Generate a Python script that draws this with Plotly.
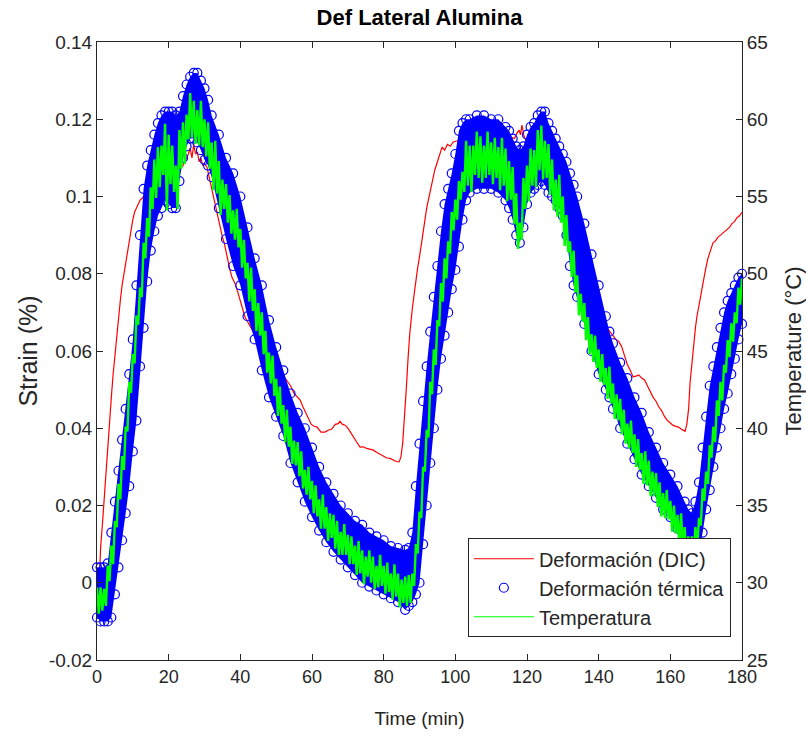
import plotly.graph_objects as go

# ---------------- data ----------------
# Deformación (DIC): time (min), strain (%)
red_t = [0, 0.5, 0.8, 1.0, 1.5, 2, 2.5, 3, 3.5, 4, 4.5, 5, 5.5, 6, 6.5, 7, 7.5, 8, 8.5, 9, 9.5, 10, 10.5, 11, 11.5, 12,
         13, 14, 16, 18, 20, 22, 24, 25, 25.5, 26, 26.5, 27, 27.5, 28, 28.5, 29, 29.5, 30, 30.7, 31.3, 32, 32.5, 33,
         33.5, 34.3, 35, 35.5, 36.2, 37.1, 37.7, 38.5, 39.2, 40, 40.6, 41.3, 43, 45, 47, 49, 51, 53, 54, 55, 56, 56.7,
         57.5, 58.3, 59, 59.8, 60.6, 61.4, 62.5, 63.6, 64.5, 65.5, 66.5, 67.3, 67.8, 68.5, 69.2, 69.8, 70.6, 71.5,
         72.4, 73.4, 74.3, 75.2, 76.1, 77, 78, 79, 80, 80.9, 81.8, 82.7, 83.5, 84.3, 84.8, 85.3, 85.8, 86.3, 86.8,
         87.3, 88, 88.7, 89.4, 90.1, 91, 92, 92.8, 93.5, 94.3, 95, 95.7, 96.3, 97, 97.8, 98.6, 99.4, 101, 103, 105,
         107, 109, 111, 113, 115, 116.5, 117.2, 117.8, 118.2, 118.6, 119.2, 120, 121, 123, 125, 127, 129, 131, 132.8,
         134, 136, 138, 140, 141.5, 142.4, 143.2, 144, 144.8, 145.6, 146.4, 147.2, 148, 148.8, 149.6, 150.4, 151.2,
         152, 152.8, 153.6, 154.4, 155.2, 156, 156.8, 157.6, 158.4, 159.2, 159.9, 160.7, 161.5, 162.3, 163, 163.5,
         164.1, 164.6, 165.1, 165.5, 166, 166.5, 167, 167.4, 168, 168.6, 169.1, 169.8, 170.5, 171.2, 171.9, 172.6,
         173.3, 174, 174.7, 175.4, 175.8, 176.5, 177.2, 177.9, 178.6, 179.3, 180]
red_s = [0.001, 0.002, 0.004, 0.009, 0.015, 0.022, 0.029, 0.036, 0.042, 0.048, 0.054, 0.059, 0.0645, 0.069, 0.073,
         0.077, 0.080, 0.083, 0.086, 0.089, 0.091, 0.094, 0.096, 0.097, 0.098, 0.099,
         0.100, 0.101, 0.103, 0.104, 0.105, 0.106, 0.108, 0.110, 0.111, 0.1125, 0.110, 0.1135, 0.111, 0.1115, 0.109,
         0.110, 0.108, 0.1085, 0.1076, 0.105, 0.102, 0.100, 0.0975,
         0.096, 0.092, 0.0895, 0.088, 0.0845, 0.081, 0.079, 0.0775, 0.0755, 0.073, 0.0705, 0.0688, 0.066, 0.063,
         0.060, 0.0575, 0.055, 0.0524, 0.051, 0.049, 0.048, 0.0473,
         0.0455, 0.044, 0.0425, 0.041, 0.0405, 0.0403, 0.039, 0.039, 0.0395, 0.0398, 0.041, 0.0412, 0.0418, 0.041,
         0.0408, 0.0403, 0.0392, 0.038,
         0.0365, 0.0351, 0.0352, 0.0348, 0.0345, 0.0344, 0.0338, 0.0333, 0.0328, 0.0323, 0.0322, 0.0318, 0.0314,
         0.0313, 0.0325, 0.036, 0.042, 0.050, 0.058,
         0.0647, 0.071, 0.0766, 0.081, 0.085, 0.091, 0.097, 0.1005, 0.1035, 0.107, 0.109, 0.111, 0.1128, 0.112,
         0.1135, 0.113, 0.1141, 0.1145, 0.115, 0.1148,
         0.1152, 0.1155, 0.115, 0.1158, 0.1155, 0.115, 0.1164, 0.1172, 0.116, 0.1185, 0.1155, 0.114, 0.1135, 0.112,
         0.109, 0.104, 0.098, 0.091, 0.0843,
         0.080, 0.076, 0.0725, 0.069, 0.067, 0.066, 0.0649, 0.064, 0.063, 0.0625, 0.0612, 0.059, 0.0565, 0.055,
         0.0533, 0.0535, 0.0538,
         0.053, 0.0525, 0.051, 0.0495, 0.048, 0.047, 0.0455, 0.0445, 0.043, 0.042, 0.0414, 0.0408, 0.0405, 0.0403,
         0.0398, 0.0396,
         0.0392, 0.041, 0.045, 0.0517, 0.057, 0.062, 0.066, 0.0688, 0.072, 0.075, 0.0776, 0.081, 0.084, 0.086,
         0.088, 0.0885,
         0.0895, 0.090, 0.0905, 0.091, 0.0913, 0.092, 0.093, 0.0935, 0.0945, 0.095, 0.0959]

# Deformación térmica: upper and lower edge of the dense band of circles
blue_t = [0, 1, 2, 3, 4, 5, 6, 7, 8, 9, 10, 11, 12, 13, 14, 15, 16, 17, 18, 19, 20, 21, 22, 23, 24, 25, 26, 27, 28,
          29, 30, 31, 32, 34, 36, 38, 40, 42, 44, 46, 48, 50, 52, 54, 56, 58, 60, 62, 64, 66, 68, 70, 72, 74, 76,
          78, 80, 82, 84, 86, 87, 88, 89, 90, 91, 92, 93, 94, 95, 96, 97, 98, 99, 100, 101, 102, 103, 104, 106, 108,
          110, 112, 114, 115, 116, 117, 118, 119, 120, 121, 122, 123, 124, 125, 126, 127, 128, 129, 130, 131, 132,
          133, 134, 136, 138, 140, 142, 143, 144, 146, 148, 150, 152, 154, 156, 158, 160, 162, 164, 165, 166, 167,
          168, 169, 170, 171, 172, 173, 174, 175, 176, 177, 178, 179, 180]
blue_top = [0.004, 0.004, 0.004, 0.005, 0.013, 0.021, 0.029, 0.037, 0.045, 0.054, 0.063, 0.077, 0.090, 0.102, 0.108,
            0.112, 0.116, 0.119, 0.121, 0.122, 0.122, 0.122, 0.121, 0.122, 0.126, 0.129, 0.131, 0.132, 0.132,
            0.130, 0.128, 0.125, 0.121, 0.116, 0.110, 0.106, 0.100, 0.092, 0.084, 0.077, 0.068, 0.061, 0.055, 0.049,
            0.044, 0.040, 0.035, 0.030, 0.026, 0.023, 0.020, 0.018, 0.016, 0.015, 0.013,
            0.012, 0.011, 0.0095, 0.009, 0.0085, 0.009, 0.013, 0.025, 0.036, 0.047, 0.056, 0.065, 0.074, 0.082,
            0.091, 0.098, 0.102, 0.106, 0.111, 0.117, 0.119, 0.120, 0.120, 0.121, 0.121,
            0.120, 0.120, 0.118, 0.117, 0.115, 0.113, 0.112, 0.113, 0.116, 0.118, 0.119, 0.121, 0.122, 0.122, 0.119,
            0.117, 0.115, 0.113, 0.111, 0.109, 0.106,
            0.103, 0.100, 0.093, 0.085, 0.077, 0.069, 0.065, 0.062, 0.057, 0.053, 0.048, 0.044, 0.039, 0.035, 0.031,
            0.028, 0.025, 0.021, 0.019, 0.018, 0.021,
            0.026, 0.035, 0.043, 0.051, 0.056, 0.061, 0.066, 0.070, 0.073, 0.075, 0.077, 0.079, 0.080]
blue_bot = [-0.009, -0.010, -0.010, -0.010, -0.009, -0.003, 0.004, 0.011, 0.018, 0.025, 0.034, 0.042, 0.056, 0.066,
            0.078, 0.086, 0.091, 0.095, 0.097, 0.099, 0.098, 0.097, 0.097, 0.104, 0.110, 0.113, 0.115, 0.115, 0.114,
            0.112, 0.1095, 0.108, 0.105, 0.097, 0.089, 0.082, 0.077, 0.069, 0.063, 0.055, 0.048, 0.043, 0.038, 0.031,
            0.026, 0.021, 0.017, 0.0135, 0.0105, 0.008, 0.006, 0.004, 0.002, 0.000, -0.001,
            -0.002, -0.003, -0.004, -0.005, -0.007, -0.006, -0.005, -0.003, 0.000, 0.010, 0.020, 0.031, 0.040, 0.050,
            0.058, 0.064, 0.070, 0.076, 0.081, 0.087, 0.094, 0.099, 0.101, 0.102, 0.102,
            0.102, 0.101, 0.099, 0.097, 0.094, 0.090, 0.088, 0.092, 0.098, 0.101, 0.102, 0.103, 0.104, 0.103, 0.101,
            0.100, 0.099, 0.097, 0.095, 0.090, 0.082,
            0.077, 0.074, 0.067, 0.060, 0.054, 0.050, 0.048, 0.045, 0.040, 0.036, 0.032, 0.028, 0.025, 0.022, 0.019,
            0.017, 0.014, 0.011, 0.009, 0.007, 0.006,
            0.008, 0.013, 0.019, 0.024, 0.030, 0.035, 0.040, 0.045, 0.049, 0.054, 0.058, 0.063, 0.067]

# Temperatura (°C): noisy trace, highs at whole minutes and lows at the half minutes
temp_high_t = list(range(0, 181))
temp_high = [29.7, 29.7, 29.6, 31.1, 32.4, 34.0, 36.4, 38.2, 40.1, 43.0,
             44.8, 47.3, 49.1, 52.0, 53.6, 55.6, 57.4, 58.2, 58.3, 59.7,
             59.0, 58.3, 57.0, 59.3, 59.8, 60.3, 61.7, 61.2, 60.6, 61.2,
             60.0, 59.8, 58.5, 58.6, 57.3, 56.1, 55.8, 55.1, 54.1, 54.2,
             52.9, 52.2, 50.7, 50.4, 49.0, 48.1, 47.5, 46.3, 44.9, 44.7,
             43.2, 42.7, 41.5, 41.2, 40.1, 39.2, 39.1, 38.5, 37.3, 37.5,
             36.6, 36.3, 35.4, 35.7, 34.9, 34.5, 34.4, 34.0, 33.3, 33.8,
             33.1, 33.0, 32.4, 32.7, 32.1, 31.7, 32.1, 31.7, 31.1, 31.8,
             31.1, 31.3, 30.6, 31.2, 30.6, 30.2, 30.4, 30.5, 30.6, 32.5,
             34.6, 37.5, 39.9, 43.0, 45.1, 47.0, 49.4, 51.0, 52.1, 54.0,
             54.8, 56.0, 56.6, 58.6, 58.3, 58.3, 59.2, 58.9, 58.3, 59.2,
             58.5, 58.8, 58.2, 58.8, 58.1, 57.3, 56.9, 55.2, 53.3, 56.2,
             57.0, 58.1, 58.0, 59.3, 59.6, 58.6, 58.4, 57.4, 56.1, 56.4,
             55.0, 53.8, 52.1, 51.5, 49.9, 48.7, 48.1, 47.2, 46.1, 46.0,
             45.1, 44.8, 43.9, 44.0, 42.9, 42.2, 41.9, 41.2, 40.3, 40.5,
             39.6, 39.3, 38.4, 38.5, 37.9, 37.2, 37.1, 36.5, 35.8, 36.0,
             35.3, 35.0, 34.4, 34.5, 33.6, 33.0, 33.0, 33.6, 34.2, 36.1,
             37.2, 38.9, 40.1, 41.8, 43.0, 44.1, 45.7, 46.8, 47.5, 49.1,
             49.7]
temp_low_t = [m + 0.5 for m in range(0, 180)]
temp_low = [28.0, 28.2, 28.5, 30.1, 31.2, 33.6, 35.4, 37.3, 39.8, 42.3,
            44.2, 46.7, 48.5, 51.0, 52.4, 54.2, 54.9, 55.6, 56.4, 54.1,
            55.8, 55.3, 54.2, 56.8, 57.1, 58.7, 58.8, 58.4, 58.3, 58.2,
            57.6, 56.8, 55.4, 55.2, 53.8, 54.2, 53.3, 52.6, 52.2, 51.7,
            50.4, 49.7, 48.2, 47.6, 46.3, 46.0, 44.8, 43.6, 42.9, 42.1,
            40.8, 40.3, 39.1, 38.8, 37.7, 37.6, 36.9, 36.1, 35.7, 35.4,
            34.5, 34.3, 33.5, 33.5, 32.7, 32.9, 32.2, 31.8, 31.8, 31.8,
            31.2, 31.2, 30.5, 30.6, 29.9, 30.4, 30.0, 29.6, 29.7, 29.8,
            29.3, 29.4, 28.9, 29.1, 28.4, 28.7, 28.5, 28.7, 29.8, 31.9,
            34.2, 37.2, 39.4, 42.2, 44.1, 46.6, 48.2, 49.7, 51.3, 52.8,
            53.5, 54.8, 55.3, 55.7, 55.3, 56.4, 56.2, 55.9, 56.2, 56.4,
            55.8, 56.2, 55.4, 55.7, 54.7, 54.8, 53.2, 51.6, 52.2, 54.2,
            54.7, 55.7, 55.6, 56.7, 56.1, 56.2, 55.1, 54.1, 53.7, 53.3,
            51.8, 51.4, 49.8, 48.8, 47.3, 46.9, 45.7, 44.8, 44.3, 43.9,
            43.0, 42.8, 41.9, 41.6, 40.6, 40.5, 39.6, 39.0, 38.7, 38.4,
            37.5, 37.3, 36.4, 36.3, 35.6, 35.6, 34.9, 34.3, 34.2, 34.1,
            33.3, 33.2, 32.4, 32.2, 31.3, 31.5, 31.6, 32.3, 33.7, 35.3,
            36.4, 38.1, 39.1, 40.8, 41.8, 43.6, 44.6, 45.6, 46.8, 48.0]

# axis ticks
x_ticks = [0, 20, 40, 60, 80, 100, 120, 140, 160, 180]
y_ticks = [-0.02, 0, 0.02, 0.04, 0.06, 0.08, 0.1, 0.12, 0.14]
y_ticktext = ["-0.02", "0", "0.02", "0.04", "0.06", "0.08", "0.1", "0.12", "0.14"]
y2_ticks = [25, 30, 35, 40, 45, 50, 55, 60, 65]

# ---------------- build traces ----------------
temp_t = []
temp = []
for i in range(len(temp_high_t)):
    temp_t.append(temp_high_t[i])
    temp.append(temp_high[i])
    if i < len(temp_low_t):
        temp_t.append(temp_low_t[i])
        temp.append(temp_low[i])

FONT = "Liberation Sans, Arial, Helvetica, sans-serif"
INK = "#262626"

fig = go.Figure()
fig.add_trace(go.Scatter(x=red_t, y=red_s, mode="lines", name="Deformación (DIC)",
                         line=dict(color="#ff0000", width=1.2)))
fig.add_trace(go.Scatter(x=blue_t + blue_t[::-1], y=blue_top + blue_bot[::-1], mode="lines",
                         fill="toself", fillcolor="#0000ff", line=dict(width=0, color="#0000ff"),
                         showlegend=False, hoverinfo="skip"))
fig.add_trace(go.Scatter(x=blue_t + blue_t, y=blue_top + blue_bot, mode="markers",
                         name="Deformación térmica", cliponaxis=False,
                         marker=dict(symbol="circle-open", size=9, color="#0000ff", line=dict(width=1.2))))
# legend entry for the temperature trace (thin line sample, as in the original legend)
fig.add_trace(go.Scatter(x=[None], y=[None], mode="lines", name="Temperatura", yaxis="y2",
                         line=dict(color="#00ff00", width=1.2)))
fig.add_trace(go.Scatter(x=temp_t, y=temp, mode="lines", name="Temperatura", yaxis="y2",
                         showlegend=False, line=dict(color="#00ff00", width=2.4)))

fig.update_layout(
    width=806, height=737,
    margin=dict(l=97, r=64, t=42, b=77),
    paper_bgcolor="white", plot_bgcolor="white",
    font=dict(family=FONT, color=INK, size=19),
    title=dict(text="<b>Def Lateral Alumina</b>", x=0.5, xanchor="center", xref="paper",
               y=0.976, yanchor="middle", font=dict(size=22, color="#000000")),
    showlegend=True,
    legend=dict(x=0.575, y=0.197, xanchor="left", yanchor="top", bgcolor="white",
                bordercolor=INK, borderwidth=1, font=dict(size=20, color=INK),
                itemwidth=60, tracegroupgap=0),
    xaxis=dict(range=[0, 180], tickvals=x_ticks, ticks="inside", ticklen=6, tickcolor=INK,
               showline=True, linecolor=INK, linewidth=1, mirror="ticks", showgrid=False,
               zeroline=False, tickfont=dict(size=18, color=INK), automargin=False,
               title=dict(text="Time (min)", font=dict(size=19, color=INK), standoff=26)),
    yaxis=dict(range=[-0.02, 0.14], tickvals=y_ticks, ticktext=y_ticktext, ticks="inside",
               ticklen=6, tickcolor=INK, showline=True, linecolor=INK, linewidth=1,
               showgrid=False, zeroline=False, tickfont=dict(size=19, color=INK), automargin=False,
               title=dict(text="Strain (%)", font=dict(size=25, color=INK), standoff=4)),
    yaxis2=dict(range=[25, 65], tickvals=y2_ticks, overlaying="y", side="right", ticks="inside",
                ticklen=6, tickcolor=INK, showline=True, linecolor=INK, linewidth=1,
                showgrid=False, zeroline=False, tickfont=dict(size=19, color=INK), automargin=False,
                title=dict(text="Temperature (°C)", font=dict(size=22, color=INK), standoff=19)),
)

fig.write_html("out.html")
